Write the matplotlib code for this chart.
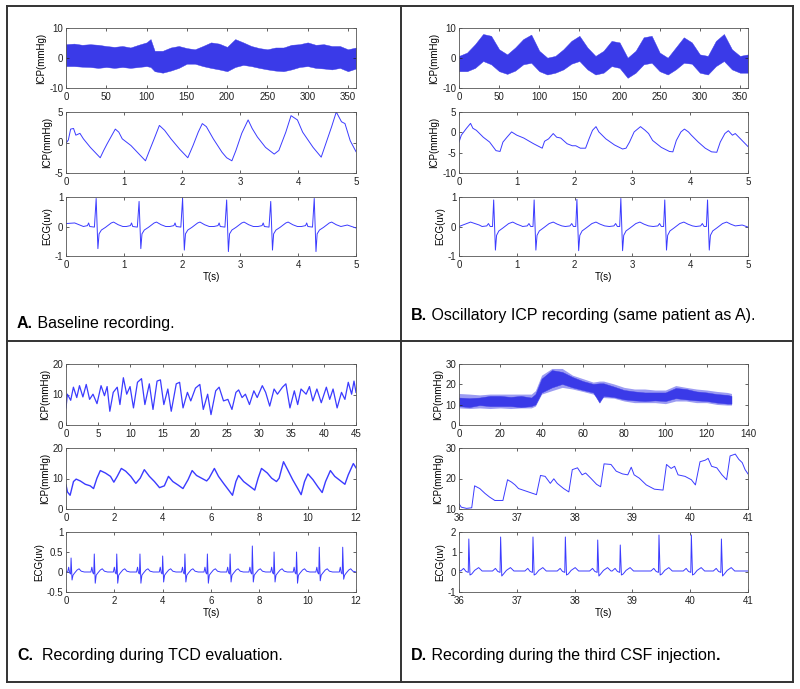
import matplotlib
matplotlib.use('Agg')
import matplotlib.pyplot as plt
from matplotlib.lines import Line2D
from matplotlib.ticker import FormatStrFormatter

plt.rcParams['font.family'] = ['Liberation Sans', 'DejaVu Sans']
plt.rcParams['axes.unicode_minus'] = False

# ---------------- data ----------------
# A top: 6 min ICP, dense band -> upper / lower envelope every 10 s
icp_a_long_t = [0, 10, 20, 30, 40, 50, 60, 70, 80, 90, 100, 105, 110, 120, 130, 140, 150, 160, 170, 180,
                190, 200, 210, 220, 230, 240, 250, 260, 270, 280, 290, 300, 310, 320, 330, 340, 350, 360]
icp_a_long_hi = [4.6, 4.8, 4.4, 4.6, 4.4, 4.0, 3.7, 4.0, 3.5, 4.4, 5.2, 6.3, 2.4, 2.4, 3.5, 4.0, 3.3, 2.9, 4.0, 5.2,
                 4.8, 3.7, 6.3, 5.2, 4.0, 3.3, 2.9, 3.5, 3.5, 4.4, 4.6, 5.2, 4.4, 4.6, 4.0, 4.0, 2.9, 3.5]
icp_a_long_lo = [-2.7, -2.7, -2.9, -3.0, -3.3, -3.0, -3.3, -3.0, -3.3, -3.0, -2.7, -3.0, -4.4, -4.9, -4.2, -3.3, -1.9, -1.9, -2.7, -3.3,
                 -3.8, -4.4, -3.0, -2.3, -2.7, -3.3, -3.8, -4.2, -4.4, -3.8, -3.0, -2.7, -3.3, -3.5, -3.8, -3.3, -4.4, -3.5]

# A middle: 5 s ICP pulse waveform
icp_a_t = [0.0, 0.04, 0.08, 0.13, 0.17, 0.24, 0.30, 0.42, 0.59, 0.65, 0.71, 0.85, 0.91, 0.97, 1.12, 1.26, 1.37,
           1.44, 1.52, 1.61, 1.70, 1.81, 1.96, 2.10, 2.19, 2.28, 2.35, 2.42, 2.54, 2.69, 2.77, 2.86, 2.93, 3.03,
           3.14, 3.21, 3.30, 3.44, 3.59, 3.67, 3.79, 3.88, 3.99, 4.08, 4.26, 4.40, 4.49, 4.58, 4.66, 4.75, 4.81,
           4.90, 5.0]
icp_a_v = [-0.1, 0.4, 2.2, 2.3, 1.2, 1.5, 0.6, -0.8, -2.5, -1.3, -0.2, 2.2, 1.7, 0.6, -0.5, -1.9, -3.0,
           -1.3, 0.6, 2.8, 2.0, 0.6, -1.1, -2.5, -0.5, 1.7, 3.1, 2.6, 0.6, -1.6, -2.5, -3.0, -1.3, 1.5,
           3.7, 2.3, 0.9, -0.8, -1.9, -1.3, 1.7, 4.4, 3.7, 1.7, -0.8, -2.4, 0.1, 2.6, 5.0, 3.4, 3.1,
           0.3, -1.5]

# A bottom: ECG beats
ecg_a_beat_t = [0.52, 1.26, 2.01, 2.77, 3.53, 4.28]
ecg_a_r = [0.95, 0.85, 0.95, 0.90, 0.85, 0.95]
ecg_a_s = [-0.75, -0.75, -0.80, -0.85, -0.80, -0.85]
ecg_a_shape_dt = [-0.22, -0.15, -0.13, -0.11, -0.03, 0.0, 0.03, 0.05, 0.09, 0.16, 0.26, 0.30, 0.38, 0.46]
ecg_a_shape_v = [0.0, 0.03, 0.12, 0.0, -0.02, 'R', 'S', -0.25, -0.12, -0.03, 0.12, 0.15, 0.06, 0.0]

# B top: 6 min oscillatory ICP envelope
icp_b_long_t = list(range(0, 361, 10))
icp_b_long_hi = [0.7, 1.8, 4.6, 8.0, 7.4, 2.9, 1.2, 3.5, 6.3, 7.8, 2.4, 0.1, 0.7, 2.9, 5.7, 7.4, 3.5, 0.7, 2.4,
                 5.7, 5.2, 0.1, 2.4, 6.9, 7.4, 1.8, 0.1, 3.5, 6.9, 5.2, 1.2, 0.7, 5.7, 8.0, 2.9, 0.7, 1.2]
icp_b_long_lo = [-4.4, -4.4, -3.3, -1.0, -2.1, -4.4, -5.3, -4.2, -2.1, -1.6, -4.4, -5.5, -4.9, -3.8, -1.9, -1.0, -3.8, -5.5, -4.9,
                 -2.7, -3.3, -6.6, -4.9, -2.1, -1.6, -4.4, -5.5, -3.8, -1.6, -1.9, -4.9, -5.5, -2.7, -1.0, -3.8, -4.9, -4.9]

# B middle
icp_b_t = [0.0, 0.04, 0.13, 0.20, 0.24, 0.30, 0.42, 0.53, 0.64, 0.71, 0.76, 0.83, 0.91, 1.00, 1.12, 1.29, 1.44,
           1.48, 1.55, 1.63, 1.69, 1.76, 1.87, 1.96, 2.02, 2.10, 2.19, 2.25, 2.31, 2.37, 2.42, 2.54, 2.69, 2.83,
           2.89, 2.95, 3.03, 3.14, 3.22, 3.28, 3.35, 3.50, 3.64, 3.70, 3.76, 3.84, 3.90, 3.97, 4.02, 4.14, 4.26,
           4.37, 4.46, 4.52, 4.60, 4.66, 4.73, 4.78, 4.87, 5.0]
icp_b_v = [-2.4, -0.7, 1.0, 2.2, 1.0, 0.5, -1.2, -2.4, -4.5, -4.7, -2.4, -1.2, 0.1, -0.7, -1.4, -2.8, -3.9,
           -2.2, -1.6, -0.3, -1.2, -1.4, -2.8, -3.3, -3.3, -3.9, -3.9, -1.6, 0.5, 1.4, 0.1, -1.6, -3.1, -4.1,
           -3.9, -2.4, 0.1, 1.4, 0.5, -0.3, -2.0, -3.7, -4.7, -4.8, -2.0, 0.1, 0.8, 0.1, -0.7, -2.4, -3.9,
           -4.8, -4.9, -2.4, -0.3, 0.4, -0.7, -0.3, -1.6, -3.5]

# B bottom
ecg_b_beat_t = [0.60, 1.30, 2.04, 2.80, 3.56, 4.30]
ecg_b_r = [0.90, 0.90, 0.92, 0.95, 0.90, 0.90]
ecg_b_s = [-0.80, -0.80, -0.82, -0.82, -0.80, -0.80]
ecg_b_shape_dt = [-0.20, -0.12, -0.09, -0.06, -0.02, 0.0, 0.03, 0.05, 0.09, 0.16, 0.26, 0.33, 0.40, 0.48]
ecg_b_shape_v = [0.0, 0.02, 0.10, 0.0, 0.0, 'R', 'S', -0.30, -0.15, -0.05, 0.10, 0.15, 0.08, 0.02]

# C top: 45 s ICP
icp_c_long_t = [0.0, 0.21, 0.73, 1.15, 1.67, 2.09, 2.62, 3.14, 3.66, 4.19, 4.81, 5.44, 5.97, 6.38, 6.80, 7.33,
                7.95, 8.37, 8.90, 9.42, 9.94, 10.47, 11.09, 11.72, 12.24, 12.93, 13.50, 14.13, 14.65, 15.18,
                15.80, 16.33, 17.11, 17.63, 18.16, 18.84, 19.36, 20.09, 20.77, 21.30, 21.98, 22.50, 23.23,
                23.76, 24.44, 25.12, 25.75, 26.37, 26.79, 27.32, 27.84, 28.47, 29.15, 29.67, 30.46, 30.98,
                31.61, 32.29, 32.81, 33.59, 34.12, 34.75, 35.43, 35.95, 36.47, 37.26, 37.78, 38.30, 38.93,
                39.61, 40.40, 40.92, 41.44, 42.07, 42.75, 43.28, 43.80, 44.32, 44.69, 45.0]
icp_c_long_v = [5.6, 10.1, 8.1, 12.4, 9.0, 12.9, 9.2, 13.3, 8.4, 10.1, 7.0, 12.9, 9.6, 12.6, 4.5, 10.7,
                12.4, 6.7, 15.5, 10.1, 12.6, 5.6, 14.0, 15.2, 6.7, 13.5, 5.1, 14.4, 14.8, 6.7,
                11.8, 4.5, 13.5, 14.0, 5.6, 10.7, 7.9, 12.1, 13.3, 5.1, 10.1, 3.4, 11.2,
                12.4, 7.9, 8.4, 5.1, 10.7, 11.5, 9.0, 10.1, 6.7, 11.2, 9.0, 12.9, 10.7,
                6.2, 11.8, 10.1, 12.4, 13.5, 5.6, 11.2, 6.7, 11.8, 10.1, 12.6, 7.9, 11.8,
                7.3, 12.4, 8.4, 11.8, 5.6, 10.7, 8.4, 14.0, 10.1, 14.4, 10.7]

# C middle
icp_c_t = [0.0, 0.06, 0.17, 0.31, 0.42, 0.59, 0.80, 1.00, 1.14, 1.28, 1.42, 1.63, 1.84, 1.98, 2.12, 2.29, 2.47,
           2.68, 2.89, 3.07, 3.24, 3.45, 3.66, 3.87, 4.07, 4.24, 4.42, 4.63, 4.84, 5.05, 5.22, 5.40, 5.61,
           5.82, 5.92, 6.14, 6.31, 6.52, 6.73, 6.89, 7.03, 7.14, 7.35, 7.63, 7.81, 7.95, 8.09, 8.33, 8.51,
           8.71, 8.82, 9.00, 9.17, 9.38, 9.59, 9.73, 9.87, 10.01, 10.22, 10.42, 10.60, 10.74, 10.94, 11.12,
           11.30, 11.54, 11.68, 11.89, 12.0]
icp_c_v = [7.9, 5.6, 4.5, 9.0, 9.8, 9.2, 8.1, 7.6, 6.7, 10.1, 12.6, 11.8, 10.7, 8.8, 10.7, 13.3, 12.4,
           10.7, 8.4, 10.1, 12.9, 10.7, 9.0, 7.0, 7.6, 10.7, 9.0, 7.9, 6.7, 9.6, 12.6, 11.0, 10.1,
           9.2, 10.1, 13.3, 10.7, 8.4, 6.2, 4.5, 9.0, 11.0, 9.0, 7.3, 6.2, 10.1, 13.3, 11.8, 10.1,
           9.0, 10.1, 15.5, 12.9, 9.6, 6.7, 4.7, 9.0, 11.5, 9.6, 7.3, 5.4, 9.0, 12.6, 10.7,
           9.6, 8.1, 11.2, 14.9, 13.5]

# C bottom
ecg_c_beat_t = [0.21, 1.17, 2.10, 3.06, 4.00, 4.92, 5.85, 6.79, 7.71, 8.61, 9.54, 10.48, 11.45]
ecg_c_r = [0.35, 0.45, 0.45, 0.45, 0.40, 0.45, 0.45, 0.45, 0.65, 0.50, 0.50, 0.62, 0.62]
ecg_c_s = [-0.20, -0.28, -0.28, -0.28, -0.25, -0.25, -0.28, -0.25, -0.25, -0.25, -0.28, -0.22, -0.18]
ecg_c_shape_dt = [-0.30, -0.14, -0.10, -0.06, -0.02, 0.0, 0.04, 0.08, 0.14, 0.25, 0.33, 0.42, 0.55]
ecg_c_shape_v = [0.0, 0.0, 0.12, -0.02, -0.05, 'R', 'S', -0.08, -0.03, 0.05, 0.08, 0.02, 0.0]

# D top: CSF injection, light outer band and dark core band
icp_d_long_t = [0, 5, 10, 15, 20, 25, 30, 35, 37, 40, 45, 50, 55, 60, 65, 68, 70, 75, 80, 85, 90, 95,
                100, 105, 110, 115, 120, 125, 130, 132]
icp_d_light_hi = [15.5, 15.2, 14.8, 15.2, 15.2, 15.2, 15.2, 15.2, 16.9, 24.5, 27.8, 27.8, 24.5, 22.8, 21.1, 21.6,
                  21.6, 20.2, 18.5, 17.7, 17.7, 17.2, 17.2, 19.4, 18.5, 17.7, 17.2, 16.5, 16.0, 15.5]
icp_d_light_lo = [8.4, 8.1, 8.4, 8.1, 8.4, 8.1, 8.4, 8.4, 9.3, 15.2, 16.9, 18.5, 17.7, 16.5, 15.2, 12.6,
                  13.5, 13.2, 11.8, 11.0, 11.0, 11.0, 10.5, 11.8, 11.8, 11.0, 11.0, 10.1, 9.8, 9.8]
icp_d_dark_hi = [13.5, 13.2, 13.5, 14.3, 14.3, 13.8, 14.3, 13.5, 15.2, 22.8, 27.0, 26.1, 23.6, 21.6, 20.2, 20.5,
                 20.5, 18.9, 17.2, 16.5, 16.0, 16.0, 16.0, 18.2, 17.7, 16.5, 16.0, 15.2, 14.8, 14.3]
icp_d_dark_lo = [9.3, 8.8, 9.8, 9.3, 9.3, 9.3, 8.8, 9.3, 10.1, 16.0, 18.5, 20.2, 18.5, 17.2, 16.0, 11.0,
                 14.3, 13.8, 12.6, 12.1, 11.8, 12.1, 11.8, 13.2, 12.6, 12.1, 11.8, 11.0, 10.5, 10.5]

# D middle
icp_d_t = [36.0, 36.04, 36.13, 36.22, 36.27, 36.36, 36.45, 36.53, 36.62, 36.76, 36.84, 36.91, 36.97, 37.03,
           37.17, 37.34, 37.41, 37.49, 37.58, 37.64, 37.70, 37.81, 37.90, 37.96, 38.05, 38.13, 38.19, 38.28,
           38.38, 38.45, 38.51, 38.63, 38.72, 38.83, 38.92, 38.98, 39.03, 39.12, 39.24, 39.38, 39.53, 39.59,
           39.67, 39.73, 39.79, 39.91, 40.02, 40.09, 40.17, 40.26, 40.31, 40.37, 40.46, 40.55, 40.63, 40.69,
           40.78, 40.84, 40.90, 40.95, 41.0]
icp_d_v = [11.7, 10.6, 10.2, 10.4, 17.6, 16.7, 15.1, 13.9, 12.8, 12.8, 19.6, 18.8, 17.9, 16.7,
           15.8, 14.7, 21.0, 20.7, 18.4, 19.9, 18.4, 16.7, 15.6, 22.9, 23.5, 21.2, 21.8, 20.1,
           18.1, 17.3, 24.8, 24.6, 22.4, 21.5, 21.2, 23.7, 21.2, 20.1, 17.9, 16.5, 16.2, 24.6,
           23.3, 24.0, 21.2, 20.7, 19.6, 17.9, 25.5, 26.0, 26.6, 24.0, 23.5, 21.2, 19.6, 27.4,
           28.0, 26.3, 25.2, 22.9, 21.5]

# D bottom
ecg_d_beat_t = [36.17, 36.72, 37.28, 37.84, 38.40, 38.79, 39.46, 40.02, 40.54]
ecg_d_r = [1.65, 1.75, 1.75, 1.75, 1.60, 1.35, 1.85, 1.85, 1.65]
ecg_d_s = [-0.15, -0.20, -0.15, -0.15, -0.20, -0.15, -0.15, -0.15, -0.20]
ecg_d_shape_dt = [-0.14, -0.09, -0.05, -0.01, 0.0, 0.02, 0.05, 0.10, 0.17, 0.23]
ecg_d_shape_v = [0.05, 0.18, 0.03, -0.02, 'R', 'S', -0.10, 0.08, 0.22, 0.05]

captions = [('A.', ' Baseline recording.', ''),
            ('B.', ' Oscillatory ICP recording (same patient as A).', ''),
            ('C.', '  Recording during TCD evaluation.', ''),
            ('D.', ' Recording during the third CSF injection', '.')]

LINE = '#3b3bff'
BAND = '#3a3ae8'
FS = 7


def ecg_trace(beat_t, r_amp, s_amp, shape_dt, shape_v, lead, tail):
    t = [p[0] for p in lead]
    v = [p[1] for p in lead]
    for t0, r, s in zip(beat_t, r_amp, s_amp):
        for dt, val in zip(shape_dt, shape_v):
            t.append(t0 + dt)
            v.append(r if val == 'R' else (s if val == 'S' else val))
    t += [p[0] for p in tail]
    v += [p[1] for p in tail]
    return t, v


def px_axes(fig, x0, y0, x1, y1):
    W, H = 800.0, 689.0
    return fig.add_axes([x0 / W, 1 - y1 / H, (x1 - x0) / W, (y1 - y0) / H])


def style(ax, xlim, xticks, ylim, yticks, ylabel, xlabel=None):
    ax.set_xlim(xlim)
    ax.set_ylim(ylim)
    ax.set_xticks(xticks)
    ax.set_yticks(yticks)
    ax.yaxis.set_major_formatter(FormatStrFormatter('%g'))
    ax.set_ylabel(ylabel, fontsize=FS, labelpad=2)
    if xlabel:
        ax.set_xlabel(xlabel, fontsize=FS, labelpad=1)
    ax.tick_params(direction='in', top=True, right=True, length=2.5, width=0.5,
                   labelsize=FS, colors='#222222')
    ax.tick_params(axis='x', pad=3)
    ax.tick_params(axis='y', pad=2)
    for sp in ax.spines.values():
        sp.set_linewidth(0.6)
        sp.set_color('#555555')


def main():
    fig = plt.figure(figsize=(8, 6.89), dpi=100)

    # column / row pixel boxes
    left_x = (66, 356)
    right_x = (459, 748)
    top_rows = [(28, 88), (112, 173), (197, 256)]
    bot_rows = [(364, 425), (448, 509), (532, 592)]

    # ---- A ----
    ax = px_axes(fig, left_x[0], top_rows[0][0], left_x[1], top_rows[0][1])
    ax.fill_between(icp_a_long_t, icp_a_long_lo, icp_a_long_hi, color=BAND, lw=0.3)
    style(ax, (0, 360), range(0, 351, 50), (-10, 10), [-10, 0, 10], 'ICP(mmHg)')

    ax = px_axes(fig, left_x[0], top_rows[1][0], left_x[1], top_rows[1][1])
    ax.plot(icp_a_t, icp_a_v, color=LINE, lw=0.7)
    style(ax, (0, 5), range(0, 6), (-5, 5), [-5, 0, 5], 'ICP(mmHg)')

    ax = px_axes(fig, left_x[0], top_rows[2][0], left_x[1], top_rows[2][1])
    t, v = ecg_trace(ecg_a_beat_t, ecg_a_r, ecg_a_s, ecg_a_shape_dt, ecg_a_shape_v,
                     [(0.0, 0.1), (0.15, 0.12)], [(4.85, 0.05), (5.0, -0.05)])
    ax.plot(t, v, color=LINE, lw=0.7)
    style(ax, (0, 5), range(0, 6), (-1, 1), [-1, 0, 1], 'ECG(uv)', 'T(s)')

    # ---- B ----
    ax = px_axes(fig, right_x[0], top_rows[0][0], right_x[1], top_rows[0][1])
    ax.fill_between(icp_b_long_t, icp_b_long_lo, icp_b_long_hi, color=BAND, lw=0.3)
    style(ax, (0, 360), range(0, 351, 50), (-10, 10), [-10, 0, 10], 'ICP(mmHg)')

    ax = px_axes(fig, right_x[0], top_rows[1][0], right_x[1], top_rows[1][1])
    ax.plot(icp_b_t, icp_b_v, color=LINE, lw=0.7)
    style(ax, (0, 5), range(0, 6), (-10, 5), [-10, -5, 0, 5], 'ICP(mmHg)')

    ax = px_axes(fig, right_x[0], top_rows[2][0], right_x[1], top_rows[2][1])
    t, v = ecg_trace(ecg_b_beat_t, ecg_b_r, ecg_b_s, ecg_b_shape_dt, ecg_b_shape_v,
                     [(0.0, 0.0), (0.2, 0.15), (0.35, 0.05)], [(4.9, 0.05), (5.0, -0.02)])
    ax.plot(t, v, color=LINE, lw=0.7)
    style(ax, (0, 5), range(0, 6), (-1, 1), [-1, 0, 1], 'ECG(uv)', 'T(s)')

    # ---- C ----
    ax = px_axes(fig, left_x[0], bot_rows[0][0], left_x[1], bot_rows[0][1])
    ax.plot(icp_c_long_t, icp_c_long_v, color=LINE, lw=0.9)
    style(ax, (0, 45), range(0, 46, 5), (0, 20), [0, 10, 20], 'ICP(mmHg)')

    ax = px_axes(fig, left_x[0], bot_rows[1][0], left_x[1], bot_rows[1][1])
    ax.plot(icp_c_t, icp_c_v, color=LINE, lw=1.0)
    style(ax, (0, 12), range(0, 13, 2), (0, 20), [0, 10, 20], 'ICP(mmHg)')

    ax = px_axes(fig, left_x[0], bot_rows[2][0], left_x[1], bot_rows[2][1])
    t, v = ecg_trace(ecg_c_beat_t, ecg_c_r, ecg_c_s, ecg_c_shape_dt, ecg_c_shape_v,
                     [(0.0, 0.0)], [(12.0, 0.0)])
    ax.plot(t, v, color=LINE, lw=0.7)
    style(ax, (0, 12), range(0, 13, 2), (-0.5, 1), [-0.5, 0, 0.5, 1], 'ECG(uv)', 'T(s)')

    # ---- D ----
    ax = px_axes(fig, right_x[0], bot_rows[0][0], right_x[1], bot_rows[0][1])
    ax.fill_between(icp_d_long_t, icp_d_light_lo, icp_d_light_hi, color='#9c9cf2', lw=0)
    ax.fill_between(icp_d_long_t, icp_d_dark_lo, icp_d_dark_hi, color=BAND, lw=0.3)
    style(ax, (0, 140), range(0, 141, 20), (0, 30), [0, 10, 20, 30], 'ICP(mmHg)')

    ax = px_axes(fig, right_x[0], bot_rows[1][0], right_x[1], bot_rows[1][1])
    ax.plot(icp_d_t, icp_d_v, color=LINE, lw=0.7)
    style(ax, (36, 41), range(36, 42), (10, 30), [10, 20, 30], 'ICP(mmHg)')

    ax = px_axes(fig, right_x[0], bot_rows[2][0], right_x[1], bot_rows[2][1])
    t, v = ecg_trace(ecg_d_beat_t, ecg_d_r, ecg_d_s, ecg_d_shape_dt, ecg_d_shape_v,
                     [(36.0, 0.1)], [(41.0, 0.05)])
    ax.plot(t, v, color=LINE, lw=0.7)
    style(ax, (36, 41), range(36, 42), (-1, 2), [-1, 0, 1, 2], 'ECG(uv)', 'T(s)')

    # ---- frame of the 2x2 table ----
    W, H = 800.0, 689.0
    frame = [((7, 6), (793, 6)), ((7, 682), (793, 682)), ((7, 6), (7, 682)),
             ((793, 6), (793, 682)), ((401, 6), (401, 682)), ((7, 341), (793, 341))]
    for (xa, ya), (xb, yb) in frame:
        fig.add_artist(Line2D([xa / W, xb / W], [1 - ya / H, 1 - yb / H],
                              transform=fig.transFigure, color='#333333', lw=1.4))

    # ---- captions ----
    bg = fig.add_axes([0, 0, 1, 1], zorder=-1)
    bg.axis('off')
    spots = [(17, 328), (411, 320), (17, 660), (411, 660)]
    for (x, y), (letter, rest, tail) in zip(spots, captions):
        t1 = fig.text(x / W, 1 - y / H, letter, fontsize=11.5, fontweight='bold',
                      va='baseline', ha='left')
        t2 = bg.annotate(rest, xy=(1, 0), xycoords=t1, va='bottom', ha='left', fontsize=11.5)
        if tail:
            bg.annotate(tail, xy=(1, 0), xycoords=t2, va='bottom', ha='left',
                        fontsize=11.5, fontweight='bold')

    fig.savefig('out.png', dpi=100)


if __name__ == '__main__':
    main()
